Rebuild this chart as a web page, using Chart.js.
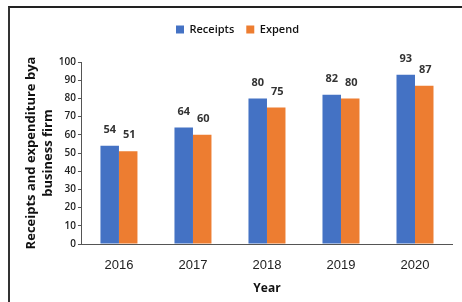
<!DOCTYPE html>
<html>
<head>
<meta charset="utf-8">
<script src="https://cdn.jsdelivr.net/npm/chart.js@4"></script>
<style>
  body { margin: 0; background: #fff; }
  #wrap { position: relative; width: 462px; height: 302px; }
  #frame { position: absolute; left: 8px; top: 6px; width: 460px; height: 300px;
           border-left: 2px solid #333; border-top: 2px solid #222; }
</style>
</head>
<body>
<div id="wrap">
  <canvas id="barChart" width="462" height="302"></canvas>
  <div id="frame"></div>
</div>
<script>
// years on the x-axis
const years = ['2016', '2017', '2018', '2019', '2020'];
// receipts and expenditure values
const receipts = [54, 64, 80, 82, 93];
const expend = [51, 60, 75, 80, 87];

// draws the value above each bar
const valueLabels = {
    id: 'valueLabels',
    afterDatasetsDraw(chart) {
        const ctx = chart.ctx;
        ctx.save();
        ctx.font = 'bold 11px "Open Sans"';
        ctx.fillStyle = '#333';
        ctx.textAlign = 'center';
        ctx.textBaseline = 'middle';
        chart.data.datasets.forEach((ds, i) => {
            chart.getDatasetMeta(i).data.forEach((bar, j) => {
                ctx.fillText(ds.data[j], bar.x + (i === 0 ? 0 : 1), bar.y - 16);
            });
        });
        ctx.restore();
    }
};

// extra space under the legend
const legendGap = {
    id: 'legendGap',
    beforeInit(chart) {
        const fit = chart.legend.fit;
        chart.legend.fit = function () {
            fit.bind(chart.legend)();
            this.height += 17;
        };
    }
};

const myChart = new Chart(document.getElementById('barChart'), {
    type: 'bar',
    data: {
        labels: years,
        datasets: [
            {
                label: 'Receipts',
                data: receipts,
                backgroundColor: '#4472C4',
                categoryPercentage: 0.5,
                barPercentage: 1.0
            },
            {
                label: 'Expend',
                data: expend,
                backgroundColor: '#ED7D31',
                categoryPercentage: 0.5,
                barPercentage: 1.0
            }
        ]
    },
    options: {
        responsive: false,
        animation: false,
        layout: {
            padding: { left: 23, right: 10, top: 12, bottom: 6 }
        },
        scales: {
            x: {
                grid: { display: false },
                border: { color: '#555', width: 1 },
                ticks: {
                    color: '#222',
                    font: { family: '"Liberation Sans", Arial', size: 13 },
                    padding: 6
                },
                title: {
                    display: true,
                    text: 'Year',
                    color: '#111',
                    font: { family: '"Open Sans"', size: 12, weight: 'bold' },
                    padding: { top: 2, bottom: 0 }
                }
            },
            y: {
                min: 0,
                max: 100,
                grid: { drawOnChartArea: false, drawTicks: true, tickLength: 4, color: '#555' },
                border: { color: '#555', width: 1 },
                ticks: {
                    stepSize: 10,
                    color: '#222',
                    font: { family: '"Open Sans"', size: 10, weight: '600' },
                    padding: 2
                },
                title: {
                    display: true,
                    text: ['Receipts and expenditure bya', 'business firm'],
                    color: '#111',
                    font: { family: '"Open Sans"', size: 13, weight: 'bold', lineHeight: 1.3 },
                    padding: { top: 0, bottom: 0 }
                }
            }
        },
        plugins: {
            legend: {
                position: 'top',
                labels: {
                    boxWidth: 8,
                    boxHeight: 8,
                    color: '#111',
                    font: { family: '"Open Sans"', size: 11, weight: '600' },
                    padding: 12
                }
            },
            tooltip: { enabled: false }
        }
    },
    plugins: [valueLabels, legendGap]
});
</script>
</body>
</html>
